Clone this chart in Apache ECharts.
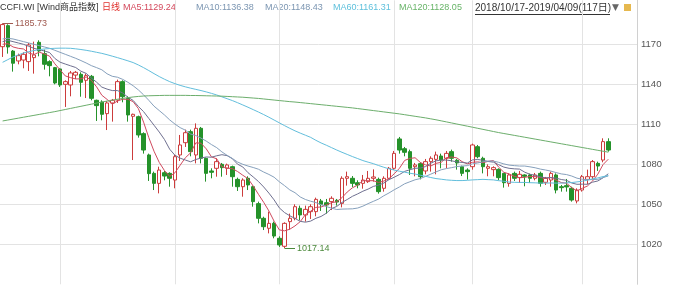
<!DOCTYPE html>
<html><head><meta charset="utf-8">
<script src="https://cdn.jsdelivr.net/npm/echarts@6/dist/echarts.min.js"></script>
<style>html,body{margin:0;padding:0;background:#fff}#c{width:684px;height:286px}</style>
</head><body><div id="c"></div>
<script>
const dates = [
'2018-10-17','2018-10-18','2018-10-19','2018-10-22','2018-10-23','2018-10-24','2018-10-25','2018-10-26','2018-10-29','2018-10-30','2018-10-31',
'2018-11-01','2018-11-02','2018-11-05','2018-11-06','2018-11-07','2018-11-08','2018-11-09','2018-11-12','2018-11-13','2018-11-14','2018-11-15','2018-11-16','2018-11-19','2018-11-20','2018-11-21','2018-11-22','2018-11-23','2018-11-26','2018-11-27','2018-11-28','2018-11-29','2018-11-30',
'2018-12-03','2018-12-04','2018-12-05','2018-12-06','2018-12-07','2018-12-10','2018-12-11','2018-12-12','2018-12-13','2018-12-14','2018-12-17','2018-12-18','2018-12-19','2018-12-20','2018-12-21','2018-12-24','2018-12-25','2018-12-26','2018-12-27','2018-12-28',
'2019-01-02','2019-01-03','2019-01-04','2019-01-07','2019-01-08','2019-01-09','2019-01-10','2019-01-11','2019-01-14','2019-01-15','2019-01-16','2019-01-17','2019-01-18','2019-01-21','2019-01-22','2019-01-23','2019-01-24','2019-01-25','2019-01-28','2019-01-29','2019-01-30','2019-01-31',
'2019-02-01','2019-02-11','2019-02-12','2019-02-13','2019-02-14','2019-02-15','2019-02-18','2019-02-19','2019-02-20','2019-02-21','2019-02-22','2019-02-25','2019-02-26','2019-02-27','2019-02-28',
'2019-03-01','2019-03-04','2019-03-05','2019-03-06','2019-03-07','2019-03-08','2019-03-11','2019-03-12','2019-03-13','2019-03-14','2019-03-15','2019-03-18','2019-03-19','2019-03-20','2019-03-21','2019-03-22','2019-03-25','2019-03-26','2019-03-27','2019-03-28','2019-03-29',
'2019-04-01','2019-04-02','2019-04-03','2019-04-04','2019-04-08','2019-04-09'];

const opens = [
1168.2,1184,1164.9,1157.5,1158.2,1157,1160,1171.5,1163,1157,
1152.5,1151.5,1140,1139.5,1146.9,1147.5,1143,1146,1128,1126.7,
1118,1126,1128.2,1142,1129.5,1116,1115.7,1103,1087,1073.2,
1065.7,1073.7,1073.2,1068.2,1087,1096.2,1104.5,1087,1107,1084.5,
1075,1077,1080,1077,1078.2,1068.7,1063.2,1069.5,1063.2,1050.5,
1039.5,1032,1035.7,1024.5,1018.5,1037,1039.5,1047,1042,1044.5,
1044.5,1052.5,1051.2,1052,1053,1050.7,1069.5,1069.5,1066.2,1065.7,
1067,1069.5,1068.7,1062,1069.5,1077,1099,1091.7,1089.5,1078.2,
1080.5,1075,1082,1083.7,1086.2,1084.5,1089.5,1083,1078.2,1075.7,
1078.2,1093.2,1084.5,1077,1076,1076.2,1073.2,1065.7,1073.2,1070,
1072,1072,1069.5,1073.2,1066.5,1068.2,1072,1063.2,1064,1062,
1052.5,1060.7,1068.7,1070.7,1080.7,1083.2,1097];
const closes = [
1184.8,1168,1155.8,1161.5,1162.5,1169.5,1162,1165,1155,1154,
1141,1139.5,1142,1148.5,1149,1141.5,1146.5,1129.5,1124,1117.5,
1126,1128,1142,1130.7,1117,1117.5,1102,1090.7,1073,1065.7,
1075.7,1071.2,1069.5,1085.7,1094.5,1103.7,1089.5,1107,1084.5,1073.2,
1074,1082,1077.5,1079.5,1070.7,1063.2,1068.2,1064.5,1052,1039.5,
1033.2,1035.7,1026.2,1019.5,1035.7,1039.5,1048.2,1042,1046.2,1048.2,
1053.7,1050,1049.5,1054.5,1051.7,1069.5,1070.7,1065.7,1064.5,1068.2,
1069.5,1070.5,1059.5,1069.5,1077,1088.2,1090.7,1089,1077,1079.5,
1070.7,1082,1084.5,1087,1083.2,1088.2,1084.5,1081,1073.2,1074.5,
1094.5,1085.7,1078.2,1078.2,1077.5,1070,1066.2,1072,1069.5,1072.5,
1071,1069.5,1072,1065.7,1069.5,1073.2,1060.7,1062.5,1063,1053.2,
1060.7,1070.7,1070.7,1082,1078.7,1097,1090.7];
const lows = [
1160.5,1163,1149.5,1155,1152,1150,1148,1161,1151,1146,
1140,1138,1123,1131,1144,1130.7,1129.7,1128,1112.5,1113,
1105.7,1112,1126,1126.5,1112,1083.2,1100,1088,1067.5,1060.7,
1058.2,1068,1063.2,1062,1082.5,1093,1086,1080.7,1080.7,1067,
1069.5,1070.7,1070.7,1072,1063.2,1060,1055.7,1060.7,1048.2,1035.7,
1030.7,1028.2,1024.5,1018,1017.14,1031,1038,1038,1037,1039,
1041,1045,1043,1045.7,1049,1047.7,1064,1063,1062,1061.7,
1066,1067,1058,1059.5,1068.7,1075.7,1088,1086,1072,1071,
1068.7,1072.5,1074.5,1072.5,1077,1077,1082,1076,1071.2,1068.5,
1076,1084.5,1073.2,1071,1071,1068,1062.5,1063.2,1067.5,1066,
1063.5,1066,1068,1063.2,1064.5,1063.2,1058.2,1059.5,1059.5,1052,
1050.7,1059.5,1065,1068.7,1075,1081.5,1089.5];
const highs = [
1185.73,1185,1165.7,1163,1164,1171,1172,1173,1166,1158,
1153,1152,1143,1150,1150,1149,1148,1147,1128.5,1128,
1127.5,1129,1143.5,1143,1131,1118,1116.5,1104,1088,1074.5,
1078.2,1075,1074,1087,1102,1106,1106,1110.7,1108,1085,
1077,1084.5,1081,1080.5,1079,1070,1069.5,1071,1064,1052,
1040.7,1044.5,1037,1026,1036.5,1043,1050,1049,1049,1050,
1055,1054,1054,1056,1054,1071,1074.5,1071.2,1068,1072,
1075,1076.2,1070,1071,1078,1090,1100.5,1093,1091,1081,
1081.5,1084,1086,1089.5,1088,1090,1091,1084,1079,1077,
1095.5,1094.5,1085.7,1080,1078.5,1077,1073.5,1073.2,1074.5,1075,
1072.5,1073,1073.5,1074.5,1070.5,1074.5,1073.2,1064.5,1069,1063.2,
1062,1072,1076,1083.2,1082,1099.5,1099.5];

const ma5 = [
1170,1170.5,1168,1167,
1166.5,1163.5,1162.3,1164.1,1162.8,1161.1,1155.4,1150.9,1146.3,1145,
1144,1144.1,1145.5,1143,1138.1,1131.8,1128.7,1125,1127.5,1128.8,
1128.7,1127,1121.8,1111.6,1100,1089.8,1081.4,1075.3,1071,1073.6,
1079.3,1084.9,1088.6,1096.1,1095.8,1091.6,1085.6,1084.1,1078.2,1077.2,
1076.7,1074.6,1071.8,1069.2,1063.7,1057.5,1051.5,1045,1037.3,1030.8,
1030.1,1031.3,1033.8,1037,1042.3,1044.8,1047.7,1048,1049.5,1051.2,
1051.9,1055,1059.2,1062.4,1064.4,1067.7,1067.7,1067.7,1066.4,1067.4,
1069.2,1072.9,1077,1082.9,1084.4,1084.9,1081.4,1079.6,1078.7,1080.7,
1081.5,1085,1085.5,1084.8,1082,1080.3,1081.5,1081.8,1081.2,1082.2,
1082.8,1077.9,1074,1072.8,1071,1070,1070.2,1070.9,1070.9,1070.1,
1069.5,1070,1068.2,1066.3,1065.8,1062.5,1060,1062,1063.7,1067.5,
1072.6,1079.8,1083.8];
const ma10 = [
1172,1173,1172,1171,1170,1168.5,1167,1166,1165,
1163.8,1159.4,1156.6,1155.2,1153.9,1152.6,1149.8,1148.2,1144.7,1141.6,
1137.9,1136.4,1135.3,1135.3,1133.5,1130.3,1127.9,1123.4,1119.5,1114.4,
1109.3,1104.2,1098.6,1091.3,1086.8,1084.6,1083.2,1081.9,1083.6,1084.7,
1085.5,1085.3,1086.4,1087.2,1086.5,1084.2,1080.1,1078,1073.7,1070.5,
1067.1,1063,1058.4,1053.3,1047.3,1043.8,1041.4,1039.4,1037.2,1036.6,
1037.4,1039.5,1040.9,1043.3,1046.8,1048.4,1051.4,1053.6,1056,1057.8,
1059.8,1061.4,1063.4,1064.4,1065.9,1068.5,1070.3,1072.3,1074.7,1075.9,
1077,1077.2,1078.3,1080.8,1082.6,1083.2,1083.2,1082.6,1081.8,1081.4,
1080.9,1083.3,1083.6,1083,1082.1,1081.6,1079.7,1077.9,1077,1076.6,
1076.4,1074.1,1072.5,1071.8,1070.6,1069.8,1070.1,1069.6,1068.6,1068,
1066,1065,1065.1,1065,1066.6,1067.5,1069.9,1072.9];
const ma20 = [
1174,1174.5,1174,1173,1172,1171,1170,1169,1168,1167,1165.5,1164,1162.5,1161,1159.5,1157.8,1156,1154,1152.5,
1150.9,1147.9,1146,1145.3,1143.7,1141.5,1138.9,1135.8,1132.1,1128,
1123.6,1120.3,1117,1113.3,1110.2,1107.5,1105.6,1102.7,1101.6,1099.6,
1097.4,1094.8,1092.5,1089.3,1086.7,1084.4,1081.7,1080,1078.7,1077.6,
1076.3,1074.2,1072.4,1070.3,1066.9,1064,1060.8,1058.7,1055.5,1053.6,
1052.3,1051.3,1049.7,1048.3,1047.1,1046.1,1046.4,1046.5,1046.6,1047.2,
1048.6,1050.5,1052.2,1053.9,1056.4,1058.5,1060.9,1063,1065.4,1066.9,
1068.4,1069.3,1070.9,1072.6,1074.3,1075.9,1076.8,1077.5,1078.3,1078.7,
1079,1080.3,1081,1081.9,1082.4,1082.4,1081.5,1080.3,1079.4,1079,
1078.7,1078.7,1078.1,1077.4,1076.4,1075.7,1074.9,1073.8,1072.8,1072.3,
1071.2,1069.6,1068.8,1068.4,1068.6,1068.7,1070,1071.3];
const ma60 = [
1156.5,1158.5,1160.5,1162,1163.5,1164.5,1165.3,1166,1166.5,1166.8,
1167,1167.1,1167.1,1167,1166.6,1166.1,1165.5,1164.8,1164,1163.2,
1162.2,1161.1,1160,1158.8,1157.6,1156.3,1154.5,1152.5,1150.3,1148,
1145.8,1143.8,1142,1140.5,1139.2,1138.1,1137.1,1136.2,1135.3,1134.3,
1133.2,1132,1130.6,1129.2,1127.8,1126.2,1124.5,1122.8,1121,1119.2,
1117.3,1115.3,1113.2,1111.1,1109,1107,1105.1,1103.4,1101.8,1100.2,
1098,1096,1094.3,1092.5,1090.7,1089,1087.4,1085.8,1084.3,1082.8,
1081.6,1080.5,1079.1,1077.8,1076.6,1075.7,1074.8,1074.1,1073.3,1072.7,
1071.8,1071,1070.1,1069.3,1068.8,1068.3,1068,1067.8,1067.8,1068,
1068.3,1068.5,1068.7,1068.5,1068.3,1067.7,1067.3,1066.7,1066.5,1066.4,
1066.4,1066.2,1066.1,1065.9,1065.9,1066,1065.9,1065.9,1066.1,1066.3,
1066.8,1067.3,1068.1,1069.1,1069.8,1070.8,1071.5];
const ma120 = [
1112.5,1113.2,1113.9,1114.6,1115.3,1116,1116.7,1117.4,1118.1,1118.8,
1119.5,1120.3,1121.1,1121.9,1122.7,1123.5,1124.3,1125.1,1125.9,1126.7,
1127.4,1128.1,1128.8,1129.4,1130,1130.5,1130.9,1131.2,1131.4,1131.5,
1131.6,1131.7,1131.7,1131.7,1131.7,1131.7,1131.6,1131.6,1131.5,1131.4,
1131.3,1131.2,1131.1,1130.9,1130.7,1130.5,1130.3,1130,1129.7,1129.4,
1129,1128.6,1128.2,1127.8,1127.4,1127,1126.7,1126.3,1125.9,1125.5,
1125.1,1124.7,1124.3,1123.9,1123.5,1123.1,1122.7,1122.3,1121.8,1121.3,
1120.8,1120.3,1119.8,1119.3,1118.8,1118.3,1117.8,1117.2,1116.6,1116,
1115.4,1114.8,1114.1,1113.4,1112.6,1111.8,1111,1110.2,1109.4,1108.6,
1107.8,1107,1106.2,1105.4,1104.6,1103.8,1103.1,1102.4,1101.7,1101,
1100.3,1099.6,1098.9,1098.2,1097.5,1096.8,1096.1,1095.4,1094.7,1094,
1093.3,1092.6,1091.9,1091.2,1090.5,1089.8,1089.1];

const yTicks = [1020, 1050, 1080, 1110, 1140, 1170];
const monthStarts = ['2018-11-01','2018-12-03','2019-01-02','2019-02-01','2019-03-01','2019-04-01'];
const maxPoint = {date: '2018-10-17', value: 1185.73, labelEnd: '2018-10-19'};
const minPoint = {date: '2019-01-03', value: 1017.14, labelEnd: '2019-01-07'};

const header = [
  {text: 'CCFI.WI', x: 0, color: '#333333', size: 9},
  {text: '[Wind商品指数]', x: 37, color: '#333333', size: 9},
  {text: '日线', x: 102, color: '#e0302c', size: 9},
  {text: 'MA5:1129.24', x: 123, color: '#d4485c', size: 9},
  {text: 'MA10:1136.38', x: 196, color: '#7c96b2', size: 9},
  {text: 'MA20:1148.43', x: 265, color: '#7c96b2', size: 9},
  {text: 'MA60:1161.31', x: 333, color: '#5ec0dc', size: 9},
  {text: 'MA120:1128.05', x: 399, color: '#68b468', size: 9},
  {text: '2018/10/17-2019/04/09(117日)', x: 475, color: '#333333', size: 10}
];

const FONT = '"Liberation Sans", Arial, "Noto Sans CJK SC", sans-serif';
const candleData = dates.map((d, i) => [opens[i], closes[i], lows[i], highs[i]]);

const chart = echarts.init(document.getElementById('c'), null, {renderer: 'canvas'});
const gridLineStyle = {color: '#e3e3e3', width: 1, type: 'solid'};

const graphics = header.map(h => ({
  type: 'text', x: h.x, y: 8, silent: true,
  style: {text: h.text, fill: h.color, font: h.size + 'px ' + FONT, verticalAlign: 'middle'}
}));
graphics.push({type: 'line', silent: true, shape: {x1: 475, y1: 14.5, x2: 610, y2: 14.5}, style: {stroke: '#333', lineWidth: 1}});
graphics.push({type: 'text', x: 612, y: 8, silent: true, style: {text: '▼', fill: '#666', font: '9px "DejaVu Sans", sans-serif', verticalAlign: 'middle'}});
graphics.push({type: 'rect', silent: true, shape: {x: 624, y: 4, width: 7, height: 7}, style: {fill: '#e6b84e'}});

function maSeries(name, data, color) {
  return {name, type: 'line', data, symbol: 'none', smooth: false, silent: true,
    lineStyle: {color, width: 1}, z: 3};
}

chart.setOption({
  animation: false,
  backgroundColor: '#ffffff',
  grid: {left: 0, right: 47, top: 0.3, bottom: 1.7},
  xAxis: {type: 'category', data: dates, max: 121, boundaryGap: true,
    axisLine: {show: false}, axisTick: {show: false}, axisLabel: {show: false}, splitLine: {show: false}},
  yAxis: {type: 'value', position: 'right', min: 990, max: 1203, interval: 30, scale: true,
    axisLine: {show: true, lineStyle: {color: '#d0d0d0'}}, axisTick: {show: false}, splitLine: {show: false},
    axisLabel: {margin: 4, fontSize: 9.5, color: '#555', fontFamily: FONT,
      formatter: v => (yTicks.indexOf(v) >= 0 ? String(v) : '')}},
  graphic: graphics,
  series: [
    {name: 'grid', type: 'line', data: [], silent: true, z: 0,
     markLine: {silent: true, symbol: ['none', 'none'], label: {show: false}, z: 0,
       lineStyle: gridLineStyle, emphasis: {disabled: true},
       data: yTicks.map(v => ({yAxis: v})).concat(monthStarts.map(d => ({xAxis: d})))}},
    {name: 'K', type: 'candlestick', data: candleData, barWidth: 4, z: 2,
     itemStyle: {color: '#ffffff', color0: '#25922a', borderColor: '#cc3c3c', borderColor0: '#25922a', borderWidth: 1},
     markLine: {silent: true, symbol: ['none', 'none'], z: 6,
       data: [
         [{coord: [maxPoint.date, maxPoint.value], lineStyle: {color: '#a05a50', width: 1, type: 'solid'},
           label: {show: true, position: 'end', distance: 2, formatter: String(maxPoint.value), color: '#a05a50', fontSize: 9, fontFamily: FONT}},
          {coord: [maxPoint.labelEnd, maxPoint.value]}],
         [{coord: [minPoint.date, minPoint.value], lineStyle: {color: '#4c8a3c', width: 1, type: 'solid'},
           label: {show: true, position: 'end', distance: 2, formatter: String(minPoint.value), color: '#4c8a3c', fontSize: 9, fontFamily: FONT}},
          {coord: [minPoint.labelEnd, minPoint.value]}]
       ]}},
    maSeries('MA5', ma5, '#d04a5e'),
    maSeries('MA10', ma10, '#6f7090'),
    maSeries('MA20', ma20, '#86a0bc'),
    maSeries('MA60', ma60, '#62bedc'),
    maSeries('MA120', ma120, '#6cae6c')
  ]
});
</script>
</body></html>
